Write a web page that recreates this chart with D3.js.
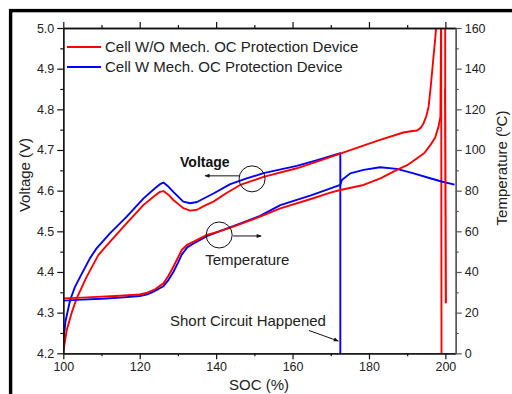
<!DOCTYPE html>
<html>
<head>
<meta charset="utf-8">
<script src="https://cdn.jsdelivr.net/npm/d3@7"></script>
<style>
  html, body { margin: 0; padding: 0; background: #fff; }
  svg { display: block; font-family: "Liberation Sans", Arial, sans-serif; }
</style>
</head>
<body>
<svg id="chart" width="512" height="394"></svg>
<script>
// Overcharge test: cell voltage (left axis) and temperature (right axis) vs. state of charge.

// SOC tick labels (bottom axis) and axis tick values
const socTicks = [100, 120, 140, 160, 180, 200];
const voltageTicks = [4.2, 4.3, 4.4, 4.5, 4.6, 4.7, 4.8, 4.9, 5.0];
const tempTicks = [0, 20, 40, 60, 80, 100, 120, 140, 160];

// Cell without mechanical OC protection: voltage [SOC %, V]
const voltageNoProtect = [
  [100, 4.204], [100.9, 4.257], [102.2, 4.30], [103.5, 4.335], [106.1, 4.388], [109.2, 4.442],
  [112.2, 4.474], [116.6, 4.52], [121, 4.565], [124, 4.588], [125.3, 4.597], [126.2, 4.599],
  [127.5, 4.590], [128.8, 4.577], [131.4, 4.557], [133.2, 4.551], [135, 4.553], [137, 4.563],
  [139.3, 4.573], [142.5, 4.593], [146.3, 4.614], [152.4, 4.634], [161.1, 4.655], [166, 4.670],
  [172.5, 4.691], [177, 4.706], [182.9, 4.725], [189, 4.743], [191, 4.746], [192.6, 4.748],
  [193.6, 4.755], [194.3, 4.766], [195, 4.783], [195.6, 4.806], [196.1, 4.85], [196.8, 4.92],
  [197.4, 4.98], [197.8, 5.03], [198.9, 5.03], [199.0, 4.0]
];

// Cell with mechanical OC protection: voltage [SOC %, V]
const voltageProtect = [
  [100, 4.229], [100.6, 4.28], [101.8, 4.331], [103, 4.362], [104.4, 4.388], [107, 4.434],
  [108.7, 4.458], [112.2, 4.495], [116.6, 4.536], [121, 4.581], [124, 4.606], [125.3, 4.616],
  [126.2, 4.620], [127.5, 4.610], [128.8, 4.597], [131.4, 4.573], [133.2, 4.569], [135, 4.572],
  [137, 4.582], [139.3, 4.593], [143.7, 4.616], [148, 4.630], [152.4, 4.643], [161.1, 4.661],
  [166, 4.674], [172.5, 4.692], [172.5, 4.0]
];

// Cell without mechanical OC protection: temperature [SOC %, °C]
const tempNoProtect = [
  [100, 27.0], [105, 27.4], [110, 27.9], [115, 28.3], [120, 28.9], [122, 29.8], [124, 31.5],
  [126.2, 34.4], [127.5, 38.0], [128.8, 42.6], [130, 47.0], [131, 50.8], [132.5, 53.5],
  [134.1, 54.9], [137.6, 58.2], [140.8, 60.0], [144.5, 62.3], [151.5, 67.2], [156.8, 71.3],
  [165, 76.0], [169.9, 79.0], [172.5, 80.3], [178.6, 82.8], [183, 86.0], [187.3, 90.2],
  [190, 92.5], [192.6, 95.9], [194.5, 98.5], [196.1, 102.5], [197.3, 106.0], [198.2, 111.5],
  [198.7, 116.4], [198.9, 170], [199.95, 170], [199.95, 130],
  [200.15, 26], [199.9, 129], [200.15, 25], [199.95, 128], [200.1, 27], [199.9, 130],
  [200.1, 25], [199.95, 127], [200.15, 26], [199.9, 128], [200.1, 25]
];

// Cell with mechanical OC protection: temperature [SOC %, °C]
const tempProtect = [
  [100, 25.9], [105, 26.4], [110, 26.8], [115, 27.4], [120, 28.2], [122, 29.0], [123.6, 30.3],
  [126.2, 33.0], [127.5, 36.0], [128.8, 40.0], [130, 44.5], [131, 48.5], [132.5, 52.2],
  [134.1, 54.0], [137.6, 57.6], [140.8, 60.0], [144.5, 62.6], [151.5, 67.6], [156.8, 72.9],
  [165, 77.8], [172.5, 82.8], [172.9, 85.2], [175.1, 88.5], [178.6, 90.2], [182.9, 91.5],
  [187.3, 90.7], [191.7, 88.5], [196, 86.1], [199, 84.5], [202.4, 83.0]
];

const legendLabels = ["Cell W/O Mech. OC Protection Device", "Cell W Mech. OC Protection Device"];
const seriesColors = ["#ff0000", "#0000ff"];

const svg = d3.select("#chart");
const plot = { left: 63.3, right: 455.7, top: 28, bottom: 353.3 };

const x = d3.scaleLinear().domain([100, 202.7]).range([plot.left, plot.right]);
const yV = d3.scaleLinear().domain([4.2, 5.0]).range([plot.bottom, plot.top]);
const yT = d3.scaleLinear().domain([0, 160]).range([plot.bottom, plot.top]);

// outer frame
svg.append("rect")
  .attr("x", 10.6).attr("y", 10.6).attr("width", 540).attr("height", 420)
  .attr("fill", "none").attr("stroke", "#000").attr("stroke-width", 3.4);

// clip region for the data curves
svg.append("defs").append("clipPath").attr("id", "plotClip")
  .append("rect")
  .attr("x", plot.left).attr("y", plot.top)
  .attr("width", plot.right - plot.left).attr("height", plot.bottom - plot.top);

const curves = svg.append("g").attr("clip-path", "url(#plotClip)");
const lineV = d3.line().x(d => x(d[0])).y(d => yV(d[1]));
const lineT = d3.line().x(d => x(d[0])).y(d => yT(d[1]));

function drawCurve(data, gen, color) {
  curves.append("path").datum(data)
    .attr("d", gen)
    .attr("fill", "none")
    .attr("stroke", color)
    .attr("stroke-width", 1.9)
    .attr("stroke-linejoin", "round");
}
drawCurve(voltageProtect, lineV, seriesColors[1]);
drawCurve(voltageNoProtect, lineV, seriesColors[0]);
drawCurve(tempProtect, lineT, seriesColors[1]);
drawCurve(tempNoProtect, lineT, seriesColors[0]);

// axes: major ticks labelled, minor ticks half-way between
const minorSoc = d3.range(110, 201, 20);
const minorV = d3.range(4.25, 5.0, 0.1);
const minorT = d3.range(10, 160, 20);

function styleAxis(g, color) {
  g.select(".domain").attr("stroke", color).attr("stroke-width", 1.3);
  g.selectAll(".tick line").attr("stroke", color).attr("stroke-width", 1.2);
  g.selectAll(".tick text").attr("fill", "#222").style("font-size", "12.5px")
    .style("font-family", "'Liberation Sans', Arial, sans-serif");
}

function addAxis(axisFn, scale, major, minor, transform, color, fmt, showLabels) {
  const gMin = svg.append("g").attr("transform", transform)
    .call(axisFn(scale).tickValues(minor).tickSize(3).tickSizeOuter(0).tickFormat(""));
  styleAxis(gMin, color);
  const gMaj = svg.append("g").attr("transform", transform)
    .call(axisFn(scale).tickValues(major).tickSize(6).tickSizeOuter(0)
      .tickPadding(3).tickFormat(showLabels ? fmt : ""));
  styleAxis(gMaj, color);
  return gMaj;
}

addAxis(d3.axisBottom, x, socTicks, minorSoc, `translate(0,${plot.bottom})`, "#111", d3.format("d"), true);
addAxis(d3.axisTop, x, socTicks, minorSoc, `translate(0,${plot.top})`, "#111", d3.format("d"), false);
addAxis(d3.axisLeft, yV, voltageTicks, minorV, `translate(${plot.left},0)`, "#111", d3.format(".1f"), true);
addAxis(d3.axisRight, yT, tempTicks, minorT, `translate(${plot.right},0)`, "#555", d3.format("d"), true);

// axis titles
const titleFont = "15px";
svg.append("text").attr("x", 259).attr("y", 390).attr("text-anchor", "middle")
  .style("font-size", titleFont).attr("fill", "#222").text("SOC (%)");
svg.append("text").attr("transform", "translate(30,175) rotate(-90)").attr("text-anchor", "middle")
  .style("font-size", titleFont).attr("fill", "#222").text("Voltage (V)");
const tTitle = svg.append("text").attr("transform", "translate(507,168) rotate(-90)")
  .attr("text-anchor", "middle").style("font-size", titleFont).attr("fill", "#222");
tTitle.append("tspan").text("Temperature (");
tTitle.append("tspan").attr("baseline-shift", "super").style("font-size", "10px").text("o");
tTitle.append("tspan").text("C)");

// legend
const legend = svg.append("g");
legendLabels.forEach((label, i) => {
  const ly = 47 + i * 20;
  legend.append("line").attr("x1", 67).attr("x2", 101).attr("y1", ly).attr("y2", ly)
    .attr("stroke", seriesColors[i]).attr("stroke-width", 1.9);
  legend.append("text").attr("x", 105).attr("y", ly + 5.3)
    .style("font-size", "15px").attr("fill", "#222").text(label);
});

// annotations
svg.append("defs").append("marker").attr("id", "arrowHead")
  .attr("viewBox", "0 0 10 10").attr("refX", 9).attr("refY", 5)
  .attr("markerWidth", 7).attr("markerHeight", 5).attr("orient", "auto")
  .append("path").attr("d", "M0,1 L10,5 L0,9 Z").attr("fill", "#111");

const ann = svg.append("g");
const circR = 13;
// voltage marker circle + arrow pointing to the left axis
const vc = [149.4, 4.629];
ann.append("circle").attr("cx", x(vc[0])).attr("cy", yV(vc[1])).attr("r", circR)
  .attr("fill", "none").attr("stroke", "#111").attr("stroke-width", 1);
ann.append("line")
  .attr("x1", x(vc[0]) - circR).attr("y1", yV(vc[1]) - 3)
  .attr("x2", x(vc[0]) - circR - 34).attr("y2", yV(vc[1]) - 3)
  .attr("stroke", "#111").attr("stroke-width", 1).attr("marker-end", "url(#arrowHead)");
ann.append("text").attr("x", x(vc[0]) - 72).attr("y", yV(vc[1]) - 12)
  .style("font-size", "14px").style("font-weight", "bold").attr("fill", "#111").text("Voltage");

// temperature marker circle + arrow pointing to the right axis
const tc = [140.8, 58.2];
ann.append("circle").attr("cx", x(tc[0])).attr("cy", yT(tc[1])).attr("r", circR)
  .attr("fill", "none").attr("stroke", "#111").attr("stroke-width", 1);
ann.append("line")
  .attr("x1", x(tc[0]) + circR + 1).attr("y1", yT(tc[1]) + 1)
  .attr("x2", x(tc[0]) + circR + 29).attr("y2", yT(tc[1]) + 1)
  .attr("stroke", "#111").attr("stroke-width", 1).attr("marker-end", "url(#arrowHead)");
ann.append("text").attr("x", x(tc[0]) - 14).attr("y", yT(tc[1]) + 30)
  .style("font-size", "15px").attr("fill", "#222").text("Temperature");

// short-circuit label with arrow to the blue drop
const scSoc = 172.5;
ann.append("text").attr("x", 170).attr("y", 326)
  .style("font-size", "15px").attr("fill", "#222").text("Short Circuit Happened");
ann.append("line")
  .attr("x1", 309).attr("y1", 330.5)
  .attr("x2", x(scSoc) - 2).attr("y2", 341)
  .attr("stroke", "#111").attr("stroke-width", 1).attr("marker-end", "url(#arrowHead)");
</script>
</body>
</html>
